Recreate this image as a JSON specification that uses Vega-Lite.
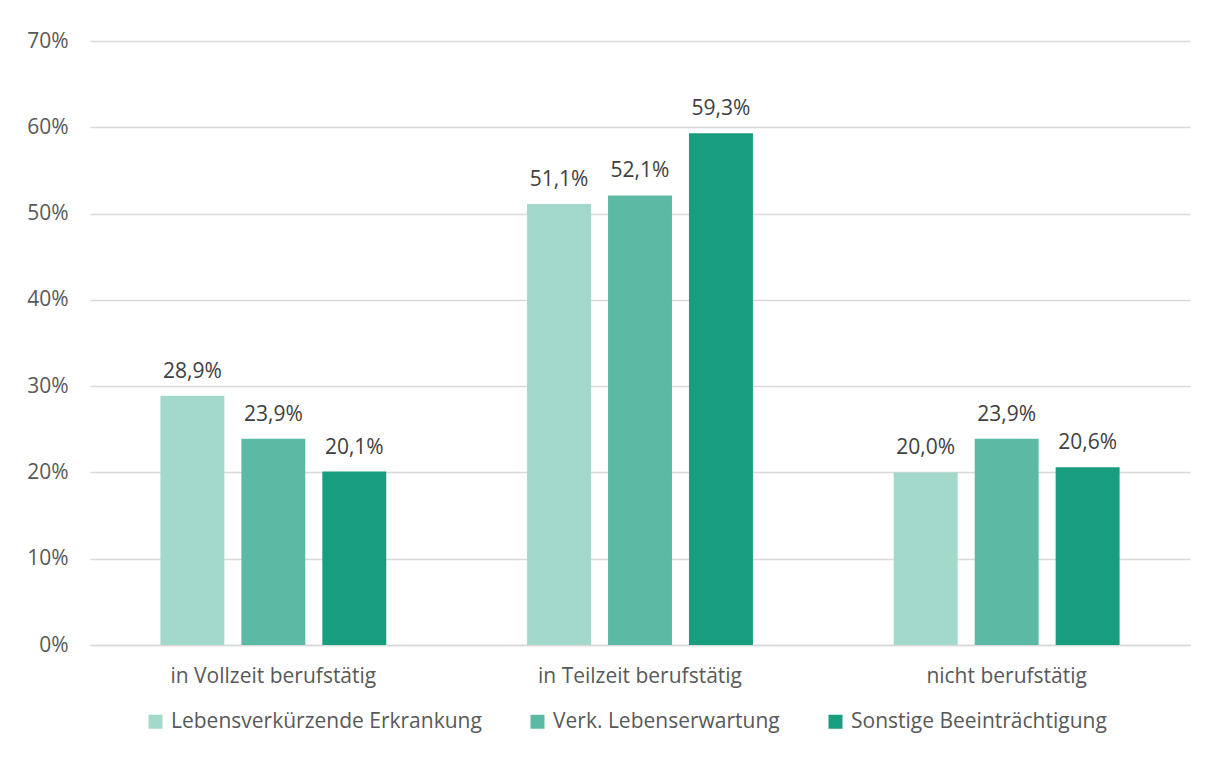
{
  "$schema": "https://vega.github.io/schema/vega-lite/v6.json",
  "autosize": {"type": "none"},
  "padding": {"left": 90, "top": 41, "right": 25, "bottom": 113},
  "width": 1100,
  "height": 604,
  "background": "white",
  "config": {
    "locale": {"number": {"decimal": ",", "thousands": ".", "grouping": [3], "currency": ["", " €"]}},
    "view": {"stroke": null},
    "font": "Open Sans"
  },
  "data": {
    "values": [
      {"gruppe": "in Vollzeit berufstätig", "kategorie": "Lebensverkürzende Erkrankung", "wert": 0.289},
      {"gruppe": "in Vollzeit berufstätig", "kategorie": "Verk. Lebenserwartung", "wert": 0.239},
      {"gruppe": "in Vollzeit berufstätig", "kategorie": "Sonstige Beeinträchtigung", "wert": 0.201},
      {"gruppe": "in Teilzeit berufstätig", "kategorie": "Lebensverkürzende Erkrankung", "wert": 0.511},
      {"gruppe": "in Teilzeit berufstätig", "kategorie": "Verk. Lebenserwartung", "wert": 0.521},
      {"gruppe": "in Teilzeit berufstätig", "kategorie": "Sonstige Beeinträchtigung", "wert": 0.593},
      {"gruppe": "nicht berufstätig", "kategorie": "Lebensverkürzende Erkrankung", "wert": 0.200},
      {"gruppe": "nicht berufstätig", "kategorie": "Verk. Lebenserwartung", "wert": 0.239},
      {"gruppe": "nicht berufstätig", "kategorie": "Sonstige Beeinträchtigung", "wert": 0.206}
    ]
  },
  "encoding": {
    "x": {
      "field": "gruppe", "type": "nominal",
      "sort": ["in Vollzeit berufstätig", "in Teilzeit berufstätig", "nicht berufstätig"],
      "scale": {"paddingInner": 0.384, "paddingOuter": 0.192},
      "axis": {"title": null, "labelAngle": 0, "ticks": false, "domainColor": "#d9d9d9", "domainWidth": 1.5, "labelFontSize": 21, "labelColor": "#595959", "labelPadding": 20, "labelLimit": 0}
    },
    "xOffset": {
      "field": "kategorie", "type": "nominal",
      "sort": ["Lebensverkürzende Erkrankung", "Verk. Lebenserwartung", "Sonstige Beeinträchtigung"],
      "scale": {"paddingInner": 0.21, "paddingOuter": 0}
    },
    "y": {
      "field": "wert", "type": "quantitative",
      "scale": {"domain": [0, 0.7]},
      "axis": {"title": null, "format": ".0%", "values": [0, 0.1, 0.2, 0.3, 0.4, 0.5, 0.6, 0.7], "ticks": false, "domain": false, "gridColor": "#d9d9d9", "gridWidth": 1.5, "labelFontSize": 21, "labelColor": "#595959", "labelPadding": 22}
    }
  },
  "layer": [
    {
      "mark": {"type": "bar"},
      "encoding": {
        "color": {
          "field": "kategorie", "type": "nominal",
          "sort": ["Lebensverkürzende Erkrankung", "Verk. Lebenserwartung", "Sonstige Beeinträchtigung"],
          "scale": {"range": ["#A3D9CB", "#5CBAA4", "#189D7E"]},
          "legend": {"title": null, "orient": "none", "legendX": 55, "legendY": 670, "direction": "horizontal", "symbolType": "square", "symbolSize": 196, "symbolStrokeWidth": 0, "labelFontSize": 21, "labelColor": "#595959", "labelLimit": 0, "columnPadding": 45, "labelOffset": 5}
        }
      }
    },
    {
      "mark": {"type": "text", "baseline": "alphabetic", "dy": -18, "fontSize": 21, "color": "#404040"},
      "encoding": {
        "text": {"field": "wert", "type": "quantitative", "format": ".1%"}
      }
    }
  ]
}
